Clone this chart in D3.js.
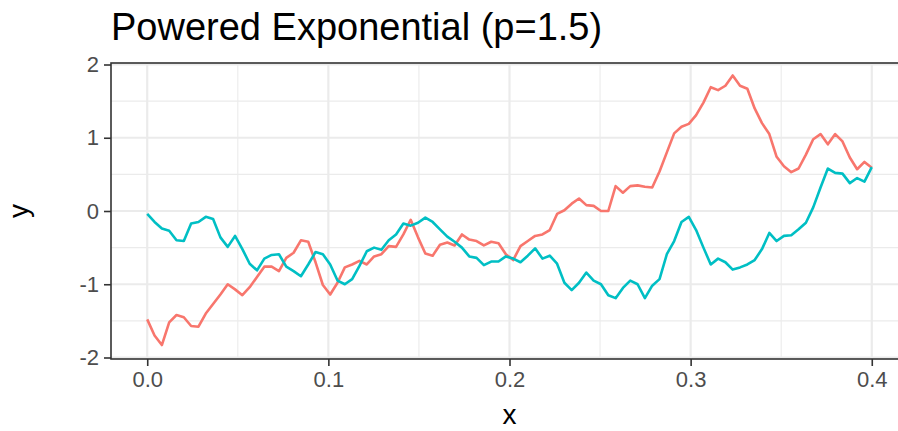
<!DOCTYPE html>
<html><head><meta charset="utf-8">
<script src="https://cdn.jsdelivr.net/npm/d3@7"></script>
<style>body{margin:0;background:#fff}svg{display:block}text{font-family:"Liberation Sans",Arial,Helvetica,sans-serif}</style>
</head><body>
<script>
const title = "Powered Exponential (p=1.5)";
const xTicks = [0, 0.1, 0.2, 0.3, 0.4];
const yTicks = [-2, -1, 0, 1, 2];
const nPoints = 100;
const seriesA = [-1.48,-1.70,-1.83,-1.52,-1.42,-1.45,-1.57,-1.58,-1.40,-1.27,
-1.14,-1.00,-1.07,-1.15,-1.04,-0.90,-0.76,-0.76,-0.82,-0.64,
-0.57,-0.40,-0.42,-0.70,-1.01,-1.14,-0.98,-0.77,-0.73,-0.68,
-0.73,-0.62,-0.59,-0.48,-0.49,-0.32,-0.12,-0.36,-0.58,-0.61,
-0.46,-0.43,-0.47,-0.32,-0.39,-0.41,-0.47,-0.42,-0.44,-0.59,
-0.67,-0.48,-0.41,-0.34,-0.32,-0.26,-0.04,0.01,0.10,0.17,
0.08,0.07,0.00,0.00,0.34,0.25,0.34,0.35,0.33,0.32,
0.54,0.80,1.06,1.15,1.19,1.31,1.48,1.69,1.65,1.71,
1.85,1.71,1.67,1.40,1.20,1.05,0.74,0.61,0.53,0.58,
0.77,0.98,1.05,0.91,1.05,0.95,0.73,0.57,0.67,0.59];
const seriesB = [-0.04,-0.15,-0.24,-0.27,-0.40,-0.41,-0.17,-0.15,-0.08,-0.11,
-0.36,-0.49,-0.34,-0.52,-0.72,-0.81,-0.65,-0.60,-0.59,-0.76,
-0.82,-0.89,-0.73,-0.56,-0.59,-0.73,-0.95,-1.00,-0.93,-0.75,
-0.55,-0.50,-0.53,-0.40,-0.32,-0.17,-0.20,-0.16,-0.09,-0.15,
-0.25,-0.35,-0.42,-0.50,-0.62,-0.64,-0.74,-0.69,-0.69,-0.62,
-0.65,-0.70,-0.61,-0.51,-0.65,-0.61,-0.72,-0.98,-1.08,-0.98,
-0.84,-0.95,-1.00,-1.15,-1.19,-1.05,-0.95,-1.00,-1.19,-1.02,
-0.93,-0.59,-0.41,-0.15,-0.08,-0.26,-0.50,-0.73,-0.65,-0.70,
-0.80,-0.77,-0.73,-0.67,-0.52,-0.30,-0.41,-0.34,-0.33,-0.25,
-0.16,0.05,0.32,0.58,0.52,0.51,0.38,0.45,0.40,0.60];
const xValues = d3.range(nPoints).map(i => i * 0.4 / (nPoints - 1));
const colors = ["#F8766D", "#00BFC4"];

const W = 898, H = 431;
const svg = d3.select("body").append("svg").attr("width", W).attr("height", H);
const panel = {left: 111, top: 63, right: 908, bottom: 359};
const x = d3.scaleLinear().domain([-0.02, 0.42]).range([panel.left, panel.right]);
const y = d3.scaleLinear().domain([-2.0205, 2.0205]).range([panel.bottom, panel.top]);

// grid
const g = svg.append("g");
const xMinor = [0.05, 0.15, 0.25, 0.35];
const yMinor = [-1.5, -0.5, 0.5, 1.5];
g.selectAll(".ymin").data(yMinor).join("line").attr("x1", panel.left).attr("x2", panel.right)
  .attr("y1", d => y(d)).attr("y2", d => y(d)).attr("stroke", "#EBEBEB").attr("stroke-width", 1.1);
g.selectAll(".xmin").data(xMinor).join("line").attr("y1", panel.top).attr("y2", panel.bottom)
  .attr("x1", d => x(d)).attr("x2", d => x(d)).attr("stroke", "#EBEBEB").attr("stroke-width", 1.1);
g.selectAll(".ymaj").data(yTicks).join("line").attr("x1", panel.left).attr("x2", panel.right)
  .attr("y1", d => y(d)).attr("y2", d => y(d)).attr("stroke", "#EBEBEB").attr("stroke-width", 2.2);
g.selectAll(".xmaj").data(xTicks).join("line").attr("y1", panel.top).attr("y2", panel.bottom)
  .attr("x1", d => x(d)).attr("x2", d => x(d)).attr("stroke", "#EBEBEB").attr("stroke-width", 2.2);

// lines
const line = d3.line().x((d, i) => x(xValues[i])).y(d => y(d));
[seriesA, seriesB].forEach((s, k) => {
  svg.append("path").datum(s).attr("d", line).attr("fill", "none")
    .attr("stroke", colors[k]).attr("stroke-width", 2.6).attr("stroke-linejoin", "round");
});

// border
svg.append("rect").attr("x", panel.left).attr("y", panel.top)
  .attr("width", panel.right - panel.left).attr("height", panel.bottom - panel.top)
  .attr("fill", "none").attr("stroke", "#333333").attr("stroke-width", 1.6);

// axes
const xAxis = svg.append("g").attr("transform", `translate(0,${panel.bottom})`)
  .call(d3.axisBottom(x).tickValues(xTicks).tickFormat(d3.format(".1f")).tickSizeOuter(0).tickSize(7).tickPadding(5));
const yAxis = svg.append("g").attr("transform", `translate(${panel.left},0)`)
  .call(d3.axisLeft(y).tickValues(yTicks).tickFormat(d => String(d)).tickSizeOuter(0).tickSize(7).tickPadding(5));
[xAxis, yAxis].forEach(a => {
  a.select(".domain").remove();
  a.selectAll(".tick line").attr("stroke", "#333333").attr("stroke-width", 1.6);
  a.selectAll(".tick text").attr("fill", "#4D4D4D").style("font-size", "22px")
    .style("font-family", "'Liberation Sans', Arial, sans-serif");
});

// titles
svg.append("text").attr("x", panel.left).attr("y", 40).text(title)
  .style("font-size", "38px").attr("fill", "#000");
svg.append("text").attr("x", x(0.2)).attr("y", 424).attr("text-anchor", "middle").text("x")
  .style("font-size", "28px").attr("fill", "#000");
svg.append("text").attr("transform", `translate(28,${y(0)}) rotate(-90)`).attr("text-anchor", "middle").text("y")
  .style("font-size", "28px").attr("fill", "#000");
</script>
</body></html>
